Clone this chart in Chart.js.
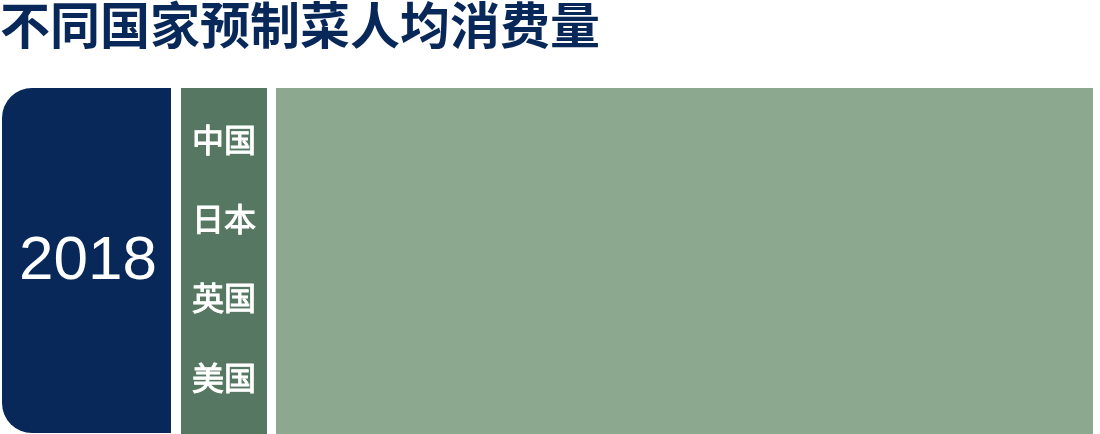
<!DOCTYPE html>
<html lang="zh">
<head>
    <meta charset="UTF-8">
    <title>不同国家预制菜人均消费量</title>
    <script src="https://cdn.jsdelivr.net/npm/chart.js@4.4.1/dist/chart.umd.min.js"></script>
    <style>
        body { margin: 0; background: #ffffff; }
        #wrap { width: 1100px; height: 434px; position: relative; }
    </style>
</head>
<body>
<div id="wrap">
    <canvas id="barChart"></canvas>
</div>
<script>
    // data
    const titleText = '不同国家预制菜人均消费量';
    const years = ['2018'];
    const countries = ['中国', '日本', '英国', '美国'];
    // no bars are visible in the picture, the plot is only the green panel
    const perCapita = [null, null, null, null];

    const navy = '#08285a';
    const darkGreen = '#567761';
    const lightGreen = '#8ca88e';

    // panels behind the axes and the plot
    const panels = {
        id: 'panels',
        beforeDraw(chart) {
            const ctx = chart.ctx;
            const area = chart.chartArea;
            const yearAxis = chart.scales.year;
            const countryAxis = chart.scales.y;
            const top = area.top - 12;
            const bottom = chart.height;
            ctx.save();
            ctx.fillStyle = navy;
            ctx.beginPath();
            ctx.roundRect(yearAxis.left + 2, top, yearAxis.right - 10 - (yearAxis.left + 2), bottom - 1 - top, [30, 0, 0, 30]);
            ctx.fill();
            ctx.fillStyle = darkGreen;
            ctx.fillRect(countryAxis.left, top, countryAxis.right - 9 - countryAxis.left, bottom - top);
            ctx.fillStyle = lightGreen;
            ctx.fillRect(area.left, top, area.right - area.left, bottom - top);
            ctx.restore();
        }
    };

    new Chart(document.getElementById('barChart'), {
        type: 'bar',
        data: {
            labels: countries,
            datasets: [{
                label: '人均消费量',
                data: perCapita,
                backgroundColor: lightGreen
            }]
        },
        options: {
            indexAxis: 'y',
            responsive: true,
            maintainAspectRatio: false,
            animation: false,
            layout: {
                padding: {left: 0, right: 7, top: 0, bottom: 17}
            },
            scales: {
                x: {
                    display: false,
                    min: 0,
                    max: 100
                },
                y: {
                    type: 'category',
                    position: 'left',
                    weight: 1,
                    offset: true,
                    grid: {display: false, drawTicks: false},
                    border: {display: false},
                    ticks: {
                        color: '#ffffff',
                        padding: 20,
                        textStrokeColor: '#ffffff',
                        textStrokeWidth: 1,
                        font: {family: '"Noto Sans CJK SC"', size: 32}
                    },
                    afterFit: function (scale) {
                        scale.width = 95;
                        scale.paddingTop = 0;
                        scale.paddingBottom = 0;
                    }
                },
                year: {
                    type: 'category',
                    labels: years,
                    position: 'left',
                    weight: 2,
                    offset: true,
                    grid: {display: false, drawTicks: false},
                    border: {display: false},
                    ticks: {
                        color: '#ffffff',
                        padding: 24,
                        labelOffset: 3.5,
                        crossAlign: 'center',
                        font: {family: '"Liberation Sans", Arial', size: 62}
                    },
                    afterFit: function (scale) {
                        scale.width = 181;
                        scale.paddingTop = 0;
                        scale.paddingBottom = 0;
                    }
                }
            },
            plugins: {
                legend: {display: false},
                tooltip: {enabled: false},
                title: {
                    display: true,
                    text: titleText,
                    align: 'start',
                    color: navy,
                    padding: {top: 0, bottom: 50},
                    font: {family: '"Noto Sans CJK SC"', size: 50, weight: 'bold', lineHeight: 1.0}
                }
            }
        },
        plugins: [panels]
    });
</script>
</body>
</html>
